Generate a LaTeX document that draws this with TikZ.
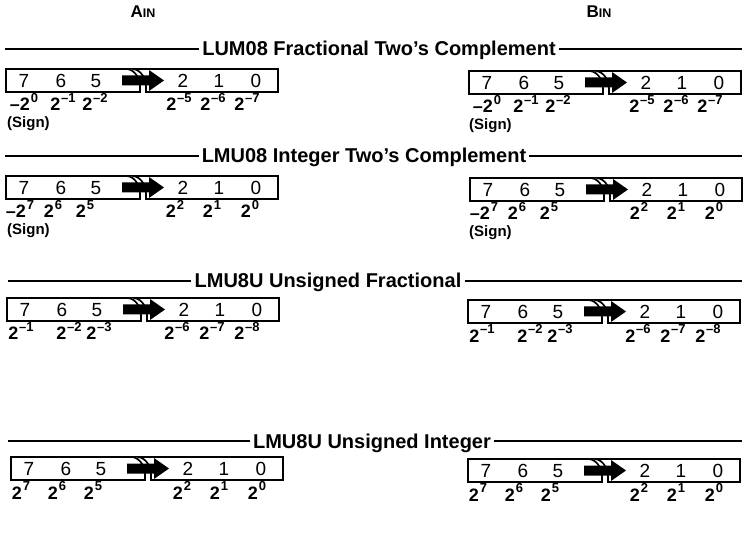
\documentclass[tikz,border=0pt]{standalone}
\usepackage{fontspec}
\setmainfont{Liberation Sans}

% powers of two written under the bits
\newcommand\pw[1]{2\kern0.8pt\raisebox{0.45em}{\fontsize{13}{13}\selectfont #1}}
\newcommand\pwn[1]{\pw{\textendash#1}}
\newcommand\npw[1]{\textendash\pw{#1}}

\tikzset{
  frame/.style={line width=1.7pt, line join=miter},
  bitnum/.style={font=\fontsize{19}{19}\selectfont, inner sep=0pt},
  weight/.style={font=\bfseries\fontsize{18}{18}\selectfont, inner sep=0pt, anchor=base},
  title/.style={font=\bfseries\fontsize{20}{20}\selectfont, inner sep=3pt, anchor=base},
  rule/.style={line width=1.1pt},
  signnote/.style={font=\bfseries\fontsize{15}{15}\selectfont, inner sep=0pt, anchor=base west},
  header/.style={font=\bfseries, inner sep=0pt, anchor=base},
  shiftarrow/.style={fill=black, draw=none}
}

% an 8-bit register split by a break, with the shift arrow
\newcommand\bitreg[3]{%
  \begin{scope}[shift={(#2,#3)}]
    \draw[frame] (121,0) -- (0,0) -- (0,23) -- (134,23)
      .. controls (135,11) and (130,1) .. (121,0);
    \draw[frame] (127,0) .. controls (136,1) and (141,11) .. (140,23)
      -- (272,23) -- (272,0) -- cycle;
    \fill[shiftarrow] (116,6.5) -- (143,6.5) -- (143,1) -- (158,11.5)
      -- (143,22) -- (143,16.5) -- (116,16.5) -- cycle;
    \node[bitnum] (#1-7) at (18,12) {7};
    \node[bitnum] (#1-6) at (55,12) {6};
    \node[bitnum] (#1-5) at (90,12) {5};
    \node[bitnum] (#1-2) at (177,12) {2};
    \node[bitnum] (#1-1) at (213,12) {1};
    \node[bitnum] (#1-0) at (250,12) {0};
  \end{scope}}

% row of bit weights: name, left x, baseline y, list of offset/label
\newcommand\weightrow[4]{%
  \foreach \dx/\lab [count=\k] in {#4}
    {\node[weight] (#1-\k) at ({#2+\dx},#3) {\lab};}}

\begin{document}
\begin{tikzpicture}[x=1pt,y=-1pt]
\useasboundingbox (0,0) rectangle (747,537);

% column headers
\node[header] (ain) at (143,18) {\fontsize{17}{17}\selectfont A\fontsize{12.5}{12.5}\selectfont IN};
\node[header] (bin) at (599,18) {\fontsize{17}{17}\selectfont B\fontsize{12.5}{12.5}\selectfont IN};

% ---- LUM08 fractional two's complement
\node[title] (t1) at (379,56) {LUM08 Fractional Two's Complement};
\coordinate (r1a) at (5,49); \coordinate (r1b) at (742,49);
\draw[rule] (r1a) -- (t1.west |- r1a);
\draw[rule] (t1.east |- r1a) -- (r1b);
\bitreg{a1}{6}{69}
\bitreg{b1}{469}{71}
\weightrow{a1w}{6}{111}{18/\npw{0}, 57/\pwn{1}, 89/\pwn{2}, 173/\pwn{5}, 207/\pwn{6}, 241/\pwn{7}}
\weightrow{b1w}{469}{113}{18/\npw{0}, 57/\pwn{1}, 89/\pwn{2}, 173/\pwn{5}, 207/\pwn{6}, 241/\pwn{7}}
\node[signnote] (a1s) at (7,128) {(Sign)};
\node[signnote] (b1s) at (469,130) {(Sign)};

% ---- LMU08 integer two's complement
\node[title] (t2) at (364,163) {LMU08 Integer Two's Complement};
\coordinate (r2a) at (5,156); \coordinate (r2b) at (742,156);
\draw[rule] (r2a) -- (t2.west |- r2a);
\draw[rule] (t2.east |- r2a) -- (r2b);
\bitreg{a2}{6}{176}
\bitreg{b2}{470}{178}
\weightrow{a2w}{6}{218}{14/\npw{7}, 47/\pw{6}, 79/\pw{5}, 169/\pw{2}, 206/\pw{1}, 244/\pw{0}}
\weightrow{b2w}{470}{220}{14/\npw{7}, 47/\pw{6}, 79/\pw{5}, 169/\pw{2}, 206/\pw{1}, 244/\pw{0}}
\node[signnote] (a2s) at (7,235) {(Sign)};
\node[signnote] (b2s) at (469,237) {(Sign)};

% ---- LMU8U unsigned fractional
\node[title] (t3) at (328,288) {LMU8U Unsigned Fractional};
\coordinate (r3a) at (8,281); \coordinate (r3b) at (742,281);
\draw[rule] (r3a) -- (t3.west |- r3a);
\draw[rule] (t3.east |- r3a) -- (r3b);
\bitreg{a3}{7}{298}
\bitreg{b3}{468}{300}
\weightrow{a3w}{7}{340}{14/\pwn{1}, 62/\pwn{2}, 92/\pwn{3}, 170/\pwn{6}, 205/\pwn{7}, 240/\pwn{8}}
\weightrow{b3w}{468}{342}{14/\pwn{1}, 62/\pwn{2}, 92/\pwn{3}, 170/\pwn{6}, 205/\pwn{7}, 240/\pwn{8}}

% ---- LMU8U unsigned integer
\node[title] (t4) at (372,448) {LMU8U Unsigned Integer};
\coordinate (r4a) at (8,441); \coordinate (r4b) at (742,441);
\draw[rule] (r4a) -- (t4.west |- r4a);
\draw[rule] (t4.east |- r4a) -- (r4b);
\bitreg{a4}{11}{457}
\bitreg{b4}{468}{459}
\weightrow{a4w}{11}{499}{10/\pw{7}, 46/\pw{6}, 82/\pw{5}, 171/\pw{2}, 208/\pw{1}, 246/\pw{0}}
\weightrow{b4w}{468}{501}{10/\pw{7}, 46/\pw{6}, 82/\pw{5}, 171/\pw{2}, 208/\pw{1}, 246/\pw{0}}
\end{tikzpicture}
\end{document}
